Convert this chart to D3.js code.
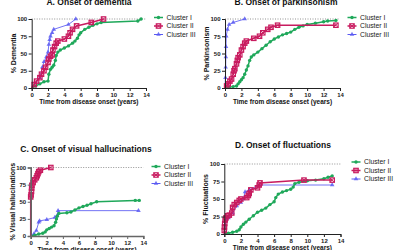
<!DOCTYPE html>
<html><head><meta charset="utf-8">
<script src="https://cdn.jsdelivr.net/npm/d3@7"></script>
<style>body{margin:0;background:#fff}svg{display:block}text{font-family:"Liberation Sans",Arial,sans-serif}</style>
</head><body>
<script>
const clusters = ["Cluster I", "Cluster II", "Cluster III"];
const xTicks = [0, 2, 4, 6, 8, 10, 12, 14];
const yTicks = [0, 25, 50, 75, 100];
const titles = ["A. Onset of dementia", "B. Onset of parkinsonism", "C. Onset of visual hallucinations", "D. Onset of fluctuations"];
const yLabels = ["% Dementia", "% Parkinsonism", "% Visual hallucinations", "% Fluctuations"];

// A. dementia
const demT1 = [0,0.5,1,1.5,2,2.1,2.3,2.5,2.7,2.9,3.0,3.2,3.5,4,4.5,5,5.3,5.6,5.8,6,6.5,7,7.5,8,8.5,13,13.4];
const demP1 = [0,3,6,9,10,20,27,30,33,40,47,52,55,58,61,65,68,72,77,80,85,88,91,93,95,97,100];
const demT2 = [0,0.3,0.6,1,1.2,1.5,1.7,2,2.1,2.3,2.5,2.6,2.8,3,3.2,4,4.5,4.7,5,5.5,7.3,8.8];
const demP2 = [0,5,10,15,20,25,30,37,42,46,48,55,60,65,68,71,75,80,85,90,95,100];
const demT3 = [0,1,1.3,1.5,1.8,2,2.1,2.2,2.3,2.5,2.7,4.5,5.4];
const demP3 = [0,15,30,38,45,52,63,70,75,80,85,92,100];

// B. parkinsonism
const parT1 = [0,0.5,1,1.4,1.6,1.8,2,2.2,2.4,2.6,2.8,3,3.2,3.5,4,4.5,5,5.5,6,6.5,7,7.5,8,8.5,9,9.5,10,11,12,12.5,13.5];
const parP1 = [0,1,2,3,6,9,12,15,20,26,32,40,45,48,52,57,62,67,71,74,77,79,81,85,88,90,92,94,96,97,98];
const parT2 = [0,0.2,0.4,0.6,0.8,1,1.1,1.2,1.4,1.5,1.6,1.8,2,2.2,2.4,2.6,3.5,4.2,4.6,5.2,5.6,6.4,13.5];
const parP2 = [0,3,6,10,13,20,25,28,35,40,44,48,55,60,65,68,72,75,80,85,88,91,91];
const parT3 = [0,0.05,0.08,0.1,0.12,0.15,0.3,0.5,1,2.4];
const parP3 = [0,15,30,45,60,75,85,92,95,100];

// C. visual hallucinations
const vhT1 = [0,0.5,1,1.5,1.8,2,2.3,2.6,2.9,3.1,3.2,3.3,3.5,4.5,5,5.5,6,6.5,7,7.5,8.2,13,13.5];
const vhP1 = [0,1,3,4,6,9,11,13,15,20,25,29,33,34,35,38,41,43,45,47,50,52,52];
const vhT2 = [0,0,0.05,0.1,0.12,0.15,0.3,0.5,0.7,0.8,0.9,1,1.2,2.5];
const vhP2 = [0,57,60,65,70,74,78,82,85,88,91,94,96,100];
const vhT3 = [0,0.4,0.7,1,1.1,2,3,3.3,3.4,13.4];
const vhP3 = [0,3,8,20,22,24,27,30,37,37];

// D. fluctuations
const flT1 = [0,0.5,1,1.5,1.8,2,2.3,2.6,3,3.5,4,4.5,5,5.5,6,6.2,6.5,7,7.5,8,8.3,8.5,9,10,11,12,12.5,13];
const flP1 = [0,1,2.5,4,6,10,14,17,21,26,31,34,37,42,46,52,57,60,62,64,67,72,74,76,77,79,81,83];
const flT2 = [0,0,0.02,0.05,0.1,0.2,0.4,0.6,0.9,1,1.2,1.5,1.8,2,2.7,2.9,3,3.2,4,4.2,4.3,9.6,13];
const flP2 = [0,5,10,15,20,23,26,27,30,38,42,45,48,50,52,55,58,63,66,70,73,77,77];
const flT3 = [0,0.2,0.5,1,1.5,2,2.3,2.5,3,4.2,13];
const flP3 = [0,20,23,30,40,45,50,60,63,70,70];

const colors = ["#1fa85a", "#c81b5f", "#5a5af2"];
const panels = [
  {series: [[demT1, demP1], [demT2, demP2], [demT3, demP3]], x0: 31.7, x1: 146, y0: 88, y1: 19, ylx: 14, title: [89, 4.5], xl: 104, leg: [154, 17.5]},
  {series: [[parT1, parP1], [parT2, parP2], [parT3, parP3]], x0: 225, x1: 340, y0: 88, y1: 19, ylx: 207, title: [286, 4.5], xl: 104, leg: [347.5, 17.5]},
  {series: [[vhT1, vhP1], [vhT2, vhP2], [vhT3, vhP3]], x0: 30.7, x1: 143.3, y0: 236, y1: 167.5, ylx: 13, title: [86, 152], xl: 251.5, leg: [151.5, 166.5]},
  {series: [[flT1, flP1], [flT2, flP2], [flT3, flP3]], x0: 224.3, x1: 340.5, y0: 234, y1: 164, ylx: 206, title: [283, 148], xl: 250, leg: [351.5, 162]}
];

const svg = d3.select("body").append("svg").attr("width", 400).attr("height", 250);

function marker(g, k, x, y) {
  const c = colors[k];
  if (k === 0) {
    g.append("circle").attr("cx", x).attr("cy", y).attr("r", 1.7).attr("fill", c);
  } else if (k === 1) {
    g.append("rect").attr("x", x - 2.2).attr("y", y - 2.2).attr("width", 4.4).attr("height", 4.4)
      .attr("fill", "none").attr("stroke", c).attr("stroke-width", 1.2);
    g.append("path").attr("d", `M${x-2},${y-2}L${x+2},${y+2}M${x+2},${y-2}L${x-2},${y+2}`)
      .attr("stroke", c).attr("stroke-width", 0.9);
  } else {
    g.append("path").attr("d", d3.symbol(d3.symbolTriangle, 9)()).attr("transform", `translate(${x},${y})`)
      .attr("fill", c).attr("opacity", 0.85);
  }
}

panels.forEach((p, i) => {
  const x = d3.scaleLinear().domain([0, 14]).range([p.x0, p.x1]);
  const y = d3.scaleLinear().domain([0, 100]).range([p.y0, p.y1]);
  const g = svg.append("g");

  g.append("line").attr("x1", x(0)).attr("x2", x(14)).attr("y1", y(100)).attr("y2", y(100))
    .attr("stroke", "#777").attr("stroke-width", 0.8).attr("stroke-dasharray", "1,1.5");

  const order = [2, 0, 1];
  order.forEach(k => {
    const [ts, ps] = p.series[k];
    const pts = ts.map((t, j) => [x(t), y(ps[j])]);
    g.append("path").attr("d", d3.line()(pts)).attr("fill", "none")
      .attr("stroke", colors[k]).attr("stroke-width", k === 2 ? 1 : 1.5)
      .attr("stroke-opacity", k === 2 ? 0.85 : 1);
    pts.forEach((q, j) => { if (j > 0) marker(g, k, q[0], q[1]); });
  });

  const ax = g.append("g").attr("transform", `translate(0,${p.y0})`)
    .call(d3.axisBottom(x).tickValues(xTicks).tickSize(3).tickPadding(1.5));
  const ay = g.append("g").attr("transform", `translate(${p.x0},0)`)
    .call(d3.axisLeft(y).tickValues(yTicks).tickSize(3).tickPadding(1.5));
  [ax, ay].forEach(a => {
    a.selectAll("path,line").attr("stroke", i === 2 ? "#666" : "#222").attr("stroke-width", 1);
    a.select(".domain").attr("stroke-width", i === 2 ? 1.6 : 1);
    a.selectAll("text").attr("font-size", 6).attr("font-weight", "bold").attr("fill", "#222")
      .attr("font-family", "Liberation Sans, Arial, sans-serif");
  });

  g.append("text").attr("x", p.title[0]).attr("y", p.title[1]).attr("text-anchor", "middle")
    .attr("font-size", 8.5).attr("font-weight", "bold").attr("fill", "#111").text(titles[i]);
  g.append("text").attr("x", (p.x0 + p.x1) / 2).attr("y", p.xl).attr("text-anchor", "middle")
    .attr("font-size", 6.5).attr("font-weight", "bold").attr("fill", "#111").text("Time from disease onset (years)");
  g.append("text").attr("transform", `translate(${p.ylx},${(p.y0 + p.y1) / 2}) rotate(-90)`)
    .attr("text-anchor", "middle").attr("dy", "0.35em")
    .attr("font-size", 7).attr("font-weight", "bold").attr("fill", "#111").text(yLabels[i]);

  clusters.forEach((c, k) => {
    const ly = p.leg[1] + k * 8.5;
    g.append("line").attr("x1", p.leg[0]).attr("x2", p.leg[0] + 9).attr("y1", ly).attr("y2", ly)
      .attr("stroke", colors[k]).attr("stroke-width", k === 2 ? 1 : 1.5);
    marker(g, k, p.leg[0] + 4.5, ly);
    g.append("text").attr("x", p.leg[0] + 12.5).attr("y", ly).attr("dy", "0.35em")
      .attr("font-size", 6.8).attr("fill", "#222").text(c);
  });
});
</script>
</body></html>
